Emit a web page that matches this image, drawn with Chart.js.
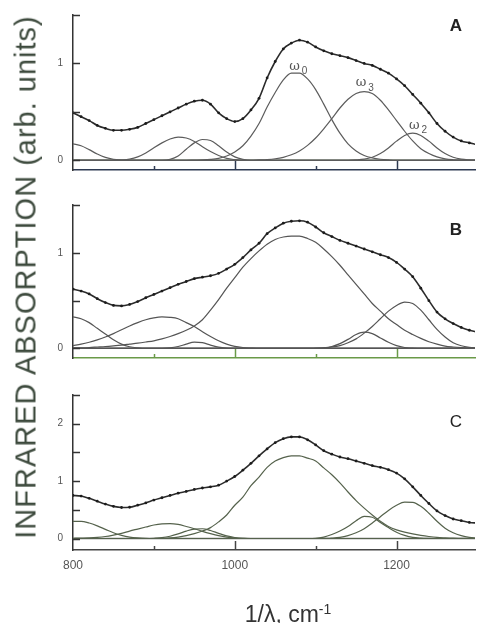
<!DOCTYPE html>
<html>
<head>
<meta charset="utf-8">
<script src="https://cdn.jsdelivr.net/npm/chart.js@4.4.1/dist/chart.umd.min.js"></script>
<style>
  html, body { margin: 0; padding: 0; background: #fff; }
  #page { position: relative; width: 479px; height: 623px; overflow: hidden; font-family: "Liberation Sans", Arial, sans-serif; }
  canvas { position: absolute; left: 0; }
  #yTitle { position: absolute; left: 26px; top: 277px; transform: translate(-50%, -50%) rotate(-90deg); white-space: nowrap; font-size: 29px; letter-spacing: 1px; color: #3d4a3d; line-height: 1; }
  #xTitle { position: absolute; left: 288px; top: 614px; transform: translate(-50%, -50%); white-space: nowrap; font-size: 23px; color: #333; line-height: 1; }
  #xTitle sup { font-size: 14px; }
</style>
</head>
<body>
<div id="page">
  <canvas id="panelA" width="479" height="180" style="top:0px"></canvas>
  <canvas id="panelB" width="479" height="180" style="top:190px"></canvas>
  <canvas id="panelC" width="479" height="243" style="top:380px"></canvas>
  <div id="yTitle">INFRARED ABSORPTION (arb. units)</div>
  <div id="xTitle">1/λ, cm<sup>-1</sup></div>
</div>
<script>
// wavenumber grid, cm^-1 (800 ... 1300 in 10 steps)
const waveNumbers = [
  800, 810, 820, 830, 840, 850, 860, 870, 880, 890,
  900, 910, 920, 930, 940, 950, 960, 970, 980, 990,
  1000, 1010, 1020, 1030, 1040, 1050, 1060, 1070, 1080, 1090,
  1100, 1110, 1120, 1130, 1140, 1150, 1160, 1170, 1180, 1190,
  1200, 1210, 1220, 1230, 1240, 1250, 1260, 1270, 1280, 1290,
  1300
];
const xTickValues = [800, 900, 1000, 1100, 1200];
const xTickLabels = ['800', '', '1000', '', '1200'];
const yTicksAB = [0, 0.5, 1, 1.5];
const yTicksC = [0, 0.5, 1, 1.5, 2, 2.5];

// ---- panel A ----
const totalA = [
  0.49, 0.45, 0.41, 0.36, 0.33, 0.31, 0.31, 0.32, 0.34, 0.38,
  0.42, 0.46, 0.50, 0.54, 0.58, 0.61, 0.62, 0.58, 0.49, 0.43,
  0.40, 0.43, 0.52, 0.64, 0.85, 1.02, 1.15, 1.21, 1.24, 1.22,
  1.17, 1.13, 1.10, 1.08, 1.06, 1.03, 1.00, 0.98, 0.94, 0.90,
  0.84, 0.77, 0.68, 0.59, 0.49, 0.38, 0.30, 0.24, 0.20, 0.18,
  0.16
];
const bandA1 = [
  0.17, 0.15, 0.11, 0.065, 0.03, 0.01, 0.003, 0, 0, 0,
  0, 0, 0, 0, 0, 0, 0, 0, 0, 0,
  0, 0, 0, 0, 0, 0, 0, 0, 0, 0,
  0, 0, 0, 0, 0, 0, 0, 0, 0, 0,
  0, 0, 0, 0, 0, 0, 0, 0, 0, 0,
  0
];
const bandA2 = [
  0, 0, 0, 0, 0, 0, 0.003, 0.012, 0.035, 0.075,
  0.13, 0.18, 0.22, 0.24, 0.23, 0.195, 0.14, 0.09, 0.05, 0.02,
  0.007, 0, 0, 0, 0, 0, 0, 0, 0, 0,
  0, 0, 0, 0, 0, 0, 0, 0, 0, 0,
  0, 0, 0, 0, 0, 0, 0, 0, 0, 0,
  0
];
const bandA3 = [
  0, 0, 0, 0, 0, 0, 0, 0, 0, 0,
  0, 0, 0.01, 0.045, 0.115, 0.18, 0.215, 0.205, 0.15, 0.085,
  0.035, 0.01, 0, 0, 0, 0, 0, 0, 0, 0,
  0, 0, 0, 0, 0, 0, 0, 0, 0, 0,
  0, 0, 0, 0, 0, 0, 0, 0, 0, 0,
  0
];
const bandOmega0 = [
  0, 0, 0, 0, 0, 0, 0, 0, 0, 0,
  0, 0, 0, 0, 0, 0.002, 0.004, 0.009, 0.02, 0.045,
  0.086, 0.15, 0.25, 0.38, 0.55, 0.70, 0.83, 0.90, 0.90, 0.84,
  0.73, 0.58, 0.42, 0.28, 0.17, 0.097, 0.05, 0.025, 0.011, 0.004,
  0, 0, 0, 0, 0, 0, 0, 0, 0, 0,
  0
];
const bandOmega3 = [
  0, 0, 0, 0, 0, 0, 0, 0, 0, 0,
  0, 0, 0, 0, 0, 0, 0, 0, 0, 0,
  0, 0, 0, 0.004, 0.008, 0.016, 0.031, 0.057, 0.096, 0.154,
  0.23, 0.325, 0.43, 0.54, 0.63, 0.69, 0.71, 0.69, 0.62, 0.52,
  0.41, 0.30, 0.20, 0.12, 0.07, 0.035, 0.015, 0.006, 0.002, 0,
  0
];
const bandOmega2 = [
  0, 0, 0, 0, 0, 0, 0, 0, 0, 0,
  0, 0, 0, 0, 0, 0, 0, 0, 0, 0,
  0, 0, 0, 0, 0, 0, 0, 0, 0, 0,
  0, 0, 0, 0, 0, 0.004, 0.012, 0.032, 0.07, 0.128,
  0.198, 0.257, 0.28, 0.257, 0.198, 0.128, 0.07, 0.032, 0.012, 0.004,
  0
];
const omegaNames = ['ω', 'ω', 'ω'];
const omegaIndex = ['0', '3', '2'];
const omegaX = [1074, 1156, 1222];
const omegaY = [0.97, 0.80, 0.36];

// ---- panel B ----
const totalB = [
  0.62, 0.60, 0.57, 0.52, 0.48, 0.45, 0.445, 0.46, 0.49, 0.53,
  0.565, 0.60, 0.635, 0.67, 0.70, 0.73, 0.745, 0.76, 0.785, 0.83,
  0.88, 0.95, 1.03, 1.10, 1.20, 1.26, 1.31, 1.33, 1.335, 1.32,
  1.27, 1.21, 1.17, 1.13, 1.10, 1.07, 1.04, 1.01, 0.98, 0.95,
  0.90, 0.83, 0.75, 0.63, 0.50, 0.38, 0.31, 0.26, 0.22, 0.19,
  0.17
];
const bandB1 = [
  0.33, 0.31, 0.27, 0.21, 0.15, 0.09, 0.045, 0.018, 0.006, 0,
  0, 0, 0, 0, 0, 0, 0, 0, 0, 0,
  0, 0, 0, 0, 0, 0, 0, 0, 0, 0,
  0, 0, 0, 0, 0, 0, 0, 0, 0, 0,
  0, 0, 0, 0, 0, 0, 0, 0, 0, 0,
  0
];
const bandB2 = [
  0.03, 0.045, 0.065, 0.09, 0.12, 0.155, 0.195, 0.235, 0.27, 0.30,
  0.32, 0.33, 0.325, 0.31, 0.27, 0.23, 0.175, 0.125, 0.08, 0.045,
  0.022, 0.01, 0.004, 0, 0, 0, 0, 0, 0, 0,
  0, 0, 0, 0, 0, 0, 0, 0, 0, 0,
  0, 0, 0, 0, 0, 0, 0, 0, 0, 0,
  0
];
const bandB3 = [
  0, 0, 0, 0, 0, 0, 0, 0, 0, 0,
  0, 0, 0.005, 0.02, 0.045, 0.065, 0.06, 0.035, 0.013, 0.003,
  0, 0, 0, 0, 0, 0, 0, 0, 0, 0,
  0, 0, 0, 0, 0, 0, 0, 0, 0, 0,
  0, 0, 0, 0, 0, 0, 0, 0, 0, 0,
  0
];
const bandB4 = [
  0.005, 0.007, 0.01, 0.015, 0.02, 0.027, 0.035, 0.045, 0.055, 0.067,
  0.08, 0.10, 0.125, 0.155, 0.19, 0.235, 0.30, 0.40, 0.51, 0.63,
  0.74, 0.85, 0.94, 1.02, 1.09, 1.14, 1.165, 1.175, 1.175, 1.15,
  1.11, 1.04, 0.96, 0.87, 0.77, 0.67, 0.57, 0.47, 0.39, 0.31,
  0.25, 0.19, 0.145, 0.105, 0.07, 0.045, 0.025, 0.015, 0.008, 0.004,
  0.002
];
const bandB5 = [
  0, 0, 0, 0, 0, 0, 0, 0, 0, 0,
  0, 0, 0, 0, 0, 0, 0, 0, 0, 0,
  0, 0, 0, 0, 0, 0, 0, 0, 0, 0,
  0, 0.005, 0.02, 0.05, 0.095, 0.145, 0.17, 0.155, 0.11, 0.065,
  0.03, 0.01, 0.003, 0, 0, 0, 0, 0, 0, 0,
  0
];
const bandB6 = [
  0, 0, 0, 0, 0, 0, 0, 0, 0, 0,
  0, 0, 0, 0, 0, 0, 0, 0, 0, 0,
  0, 0, 0, 0, 0, 0, 0, 0, 0, 0,
  0.003, 0.007, 0.015, 0.03, 0.06, 0.10, 0.16, 0.23, 0.31, 0.39,
  0.45, 0.485, 0.47, 0.40, 0.30, 0.20, 0.12, 0.06, 0.028, 0.012,
  0.005
];

// ---- panel C ----
const totalC = [
  0.75, 0.74, 0.70, 0.65, 0.60, 0.56, 0.54, 0.545, 0.58, 0.62,
  0.67, 0.71, 0.75, 0.79, 0.82, 0.855, 0.88, 0.90, 0.93, 1.00,
  1.08, 1.19, 1.31, 1.44, 1.56, 1.67, 1.74, 1.77, 1.77, 1.72,
  1.63, 1.53, 1.47, 1.42, 1.39, 1.35, 1.31, 1.27, 1.24, 1.20,
  1.14, 1.04, 0.90, 0.75, 0.61, 0.48, 0.40, 0.34, 0.31, 0.28,
  0.27
];
const bandC1 = [
  0.30, 0.30, 0.27, 0.22, 0.16, 0.10, 0.055, 0.025, 0.01, 0.003,
  0, 0, 0, 0, 0, 0, 0, 0, 0, 0,
  0, 0, 0, 0, 0, 0, 0, 0, 0, 0,
  0, 0, 0, 0, 0, 0, 0, 0, 0, 0,
  0, 0, 0, 0, 0, 0, 0, 0, 0, 0,
  0
];
const bandC2 = [
  0.005, 0.008, 0.012, 0.02, 0.035, 0.06, 0.09, 0.13, 0.165, 0.20,
  0.235, 0.255, 0.26, 0.245, 0.21, 0.17, 0.125, 0.085, 0.05, 0.025,
  0.01, 0.004, 0, 0, 0, 0, 0, 0, 0, 0,
  0, 0, 0, 0, 0, 0, 0, 0, 0, 0,
  0, 0, 0, 0, 0, 0, 0, 0, 0, 0,
  0
];
const bandC3 = [
  0, 0, 0, 0, 0, 0, 0, 0, 0, 0,
  0.005, 0.015, 0.04, 0.08, 0.13, 0.165, 0.17, 0.14, 0.09, 0.045,
  0.018, 0.005, 0, 0, 0, 0, 0, 0, 0, 0,
  0, 0, 0, 0, 0, 0, 0, 0, 0, 0,
  0, 0, 0, 0, 0, 0, 0, 0, 0, 0,
  0
];
const bandC4 = [
  0, 0, 0, 0, 0, 0, 0, 0, 0, 0,
  0, 0.003, 0.01, 0.025, 0.05, 0.085, 0.13, 0.19, 0.29, 0.41,
  0.58, 0.72, 0.92, 1.07, 1.24, 1.35, 1.41, 1.44, 1.44, 1.40,
  1.35, 1.23, 1.11, 0.97, 0.81, 0.66, 0.53, 0.41, 0.30, 0.21,
  0.15, 0.11, 0.08, 0.055, 0.035, 0.02, 0.012, 0.006, 0.003, 0,
  0
];
const bandC5 = [
  0, 0, 0, 0, 0, 0, 0, 0, 0, 0,
  0, 0, 0, 0, 0, 0, 0, 0, 0, 0,
  0, 0, 0, 0, 0, 0, 0, 0, 0, 0,
  0.003, 0.025, 0.07, 0.13, 0.21, 0.31, 0.385, 0.37, 0.28, 0.19,
  0.11, 0.055, 0.02, 0.007, 0.002, 0, 0, 0, 0, 0,
  0
];
const bandC6 = [
  0, 0, 0, 0, 0, 0, 0, 0, 0, 0,
  0, 0, 0, 0, 0, 0, 0, 0, 0, 0,
  0, 0, 0, 0, 0, 0, 0, 0, 0, 0,
  0, 0.003, 0.008, 0.02, 0.05, 0.10, 0.17, 0.27, 0.38, 0.49,
  0.58, 0.635, 0.63, 0.56, 0.44, 0.30, 0.18, 0.10, 0.05, 0.02,
  0.008
];

Chart.defaults.font.family = '"Liberation Sans", Arial, sans-serif';

const toPoints = values => waveNumbers.map((x, i) => ({x: x, y: values[i]}));

// zero line, inward ticks, panel letter and band labels
const panelDecor = {
    id: 'panelDecor',
    beforeDatasetsDraw(chart, args, opts) {
        const {ctx, chartArea: area, scales: {y}} = chart;
        const y0 = y.getPixelForValue(0);
        ctx.save();
        ctx.strokeStyle = opts.zeroColor;
        ctx.lineWidth = 1.3;
        ctx.beginPath();
        ctx.moveTo(area.left, y0);
        ctx.lineTo(area.right, y0);
        ctx.stroke();
        ctx.restore();
    },
    afterDraw(chart, args, opts) {
        const {ctx, chartArea: area, scales: {x, y}} = chart;
        ctx.save();
        ctx.lineWidth = 1.5;

        // y ticks pointing into the plot
        ctx.strokeStyle = opts.yAxisColor;
        y.ticks.forEach(t => {
            const py = Math.round(y.getPixelForValue(t.value)) + 0.5;
            ctx.beginPath();
            ctx.moveTo(area.left, py);
            ctx.lineTo(area.left + 7, py);
            ctx.stroke();
        });

        // x ticks pointing up (long at 1000 and 1200)
        ctx.strokeStyle = opts.xAxisColor;
        x.ticks.forEach(t => {
            if (t.value === 800) return;
            const px = Math.round(x.getPixelForValue(t.value)) + 0.5;
            const len = (t.value % 200 === 0) ? 9 : 4;
            ctx.beginPath();
            ctx.moveTo(px, area.bottom);
            ctx.lineTo(px, area.bottom - len);
            ctx.stroke();
        });

        // panel letter
        ctx.fillStyle = '#222';
        ctx.font = opts.letterFont;
        ctx.textAlign = 'center';
        ctx.textBaseline = 'middle';
        ctx.fillText(opts.letter, area.right - 19, area.top + opts.letterDrop);

        // band labels (omega with subscript)
        if (opts.bandLabels) {
            ctx.fillStyle = '#555';
            opts.bandLabels.names.forEach((name, i) => {
                const px = x.getPixelForValue(opts.bandLabels.xs[i]);
                const py = y.getPixelForValue(opts.bandLabels.ys[i]);
                ctx.font = '13px "DejaVu Serif", serif';
                ctx.fillText(name, px, py);
                ctx.font = '10px "Liberation Sans", Arial, sans-serif';
                ctx.fillText(opts.bandLabels.subs[i], px + 10, py + 5);
            });
        }
        ctx.restore();
    }
};

function makePanel(canvasId, p) {
    const ctx = document.getElementById(canvasId).getContext('2d');

    const datasets = [{
        data: toPoints(p.total),
        borderColor: '#2b2b2b',
        borderWidth: 1.6,
        pointRadius: 1.4,
        pointBackgroundColor: '#1c1c1c',
        pointBorderWidth: 0,
        cubicInterpolationMode: 'monotone'
    }];
    p.bands.forEach(b => {
        datasets.push({
            data: toPoints(b),
            borderColor: p.bandColor,
            borderWidth: 1.2,
            pointRadius: 0,
            cubicInterpolationMode: 'monotone'
        });
    });

    return new Chart(ctx, {
        type: 'line',
        data: { datasets: datasets },
        options: {
            responsive: false,
            animation: false,
            layout: { padding: { top: 15, right: 0, left: 0, bottom: 0 } },
            plugins: {
                legend: { display: false },
                tooltip: { enabled: false },
                panelDecor: {
                    zeroColor: p.zeroColor,
                    xAxisColor: p.xAxisColor,
                    yAxisColor: '#333',
                    letter: p.letter,
                    letterFont: p.letterFont,
                    letterDrop: p.letterDrop,
                    bandLabels: p.bandLabels
                }
            },
            scales: {
                x: {
                    type: 'linear',
                    min: 800,
                    max: 1297,
                    afterBuildTicks: s => { s.ticks = xTickValues.map(v => ({value: v})); },
                    afterFit: s => { s.height = p.xHeight; },
                    grid: { display: false, drawTicks: true, tickLength: 8 },
                    border: { display: true, color: p.xAxisColor, width: 1.5 },
                    ticks: {
                        display: p.showX,
                        autoSkip: false,
                        maxRotation: 0,
                        padding: 0,
                        color: '#555',
                        font: { size: 12 },
                        callback: (v, i) => xTickLabels[i]
                    }
                },
                y: {
                    min: p.yMin,
                    max: p.yMax,
                    afterBuildTicks: s => { s.ticks = p.yTicks.map(v => ({value: v})); },
                    afterFit: s => { s.width = 73; },
                    grid: { display: false, drawTicks: true, tickLength: 10 },
                    border: { display: true, color: '#333', width: 1.5 },
                    ticks: {
                        autoSkip: false,
                        padding: 0,
                        color: '#555',
                        font: { size: 10 },
                        callback: v => Number.isInteger(v) ? String(v) : ''
                    }
                }
            }
        },
        plugins: [panelDecor]
    });
}

makePanel('panelA', {
    total: totalA,
    bands: [bandA1, bandA2, bandA3, bandOmega0, bandOmega3, bandOmega2],
    bandColor: '#5c5c5c',
    zeroColor: '#79a85e',
    xAxisColor: '#2e3a52',
    yMin: -0.1, yMax: 1.5, yTicks: yTicksAB,
    xHeight: 10, showX: false,
    letter: 'A', letterFont: 'bold 17px "Liberation Sans", Arial, sans-serif', letterDrop: 11,
    bandLabels: { names: omegaNames, subs: omegaIndex, xs: omegaX, ys: omegaY }
});

makePanel('panelB', {
    total: totalB,
    bands: [bandB1, bandB2, bandB3, bandB4, bandB5, bandB6],
    bandColor: '#555',
    zeroColor: '#3a3a3a',
    xAxisColor: '#6a9a48',
    yMin: -0.1, yMax: 1.5, yTicks: yTicksAB,
    xHeight: 12, showX: false,
    letter: 'B', letterFont: 'bold 17px "Liberation Sans", Arial, sans-serif', letterDrop: 25
});

makePanel('panelC', {
    total: totalC,
    bands: [bandC1, bandC2, bandC3, bandC4, bandC5, bandC6],
    bandColor: '#55624c',
    zeroColor: '#6f6f6f',
    xAxisColor: '#444',
    yMin: -0.2, yMax: 2.5, yTicks: yTicksC,
    xHeight: 73, showX: true,
    letter: 'C', letterFont: '17px "Liberation Sans", Arial, sans-serif', letterDrop: 27
});
</script>
</body>
</html>
